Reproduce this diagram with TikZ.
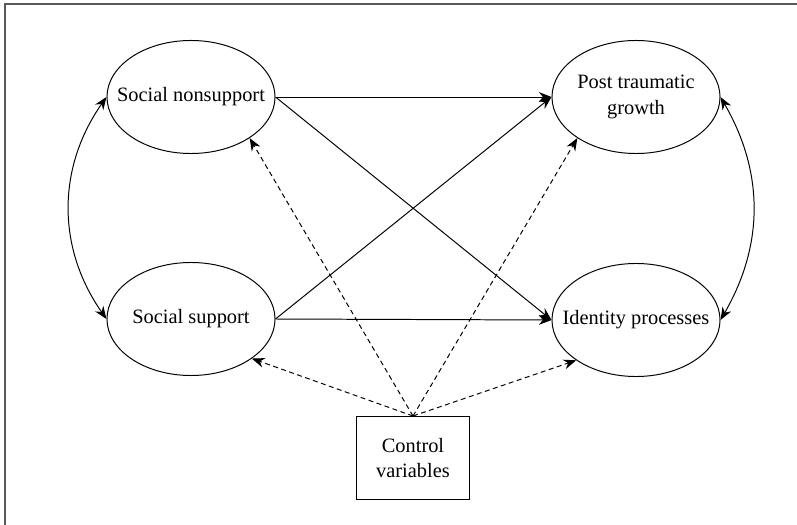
\documentclass[tikz,border=0pt]{standalone}
\usepackage{fontspec}
\setmainfont{Liberation Serif}
\usetikzlibrary{shapes.geometric,arrows.meta}

\begin{document}
\begin{tikzpicture}[x=0.025cm,y=-0.025cm,line width=0.7pt,
    latent/.style={draw,ellipse,minimum width=4.2cm,minimum height=2.825cm,inner xsep=-25pt,inner ysep=0pt,align=center,font=\fontsize{14.5}{18}\selectfont},
    ctrlbox/.style={draw,rectangle,minimum width=2.8cm,minimum height=2.075cm,inner sep=0pt,align=center,font=\fontsize{14.5}{18}\selectfont},
    path/.style={-{Stealth[length=9pt,width=7pt]}},
    ctrlpath/.style={dash pattern=on 3.5pt off 2.5pt,-{Stealth[length=9pt,width=7pt]}},
    covar/.style={{Stealth[length=9pt,width=7pt]}-{Stealth[length=9pt,width=7pt]}}]
      \useasboundingbox (0,0) rectangle (797,525);
      \draw[gray!70!black,line width=1pt] (5,525) -- (5,4) -- (797,4);
      \node[latent] (nonsup) at (191,97) {Social nonsupport};
      \node[latent] (sup) at (191,319) {Social support};
      \node[latent] (ptg) at (636,97) {Post traumatic\\growth};
      \node[latent] (ident) at (636,320) {Identity processes};
      \node[ctrlbox] (ctrl) at (413,458) {Control\\variables};
      \draw[path] (nonsup.east) -- (ptg.west);
      \draw[path] (nonsup.east) -- (ident.west);
      \draw[path] (sup.east) -- (ptg.west);
      \draw[path] (sup.east) -- (ident.west);
      \draw[ctrlpath] (ctrl.north) -- (nonsup.-35);
      \draw[ctrlpath] (ctrl.north) -- (ptg.-145);
      \draw[ctrlpath] (ctrl.north) -- (sup.-33);
      \draw[ctrlpath] (ctrl.north) -- (ident.-146);
      \draw[covar] (nonsup.west) to[bend right=35] (sup.west);
      \draw[covar] (ptg.east) to[bend left=30] (ident.east);
\end{tikzpicture}
\end{document}
